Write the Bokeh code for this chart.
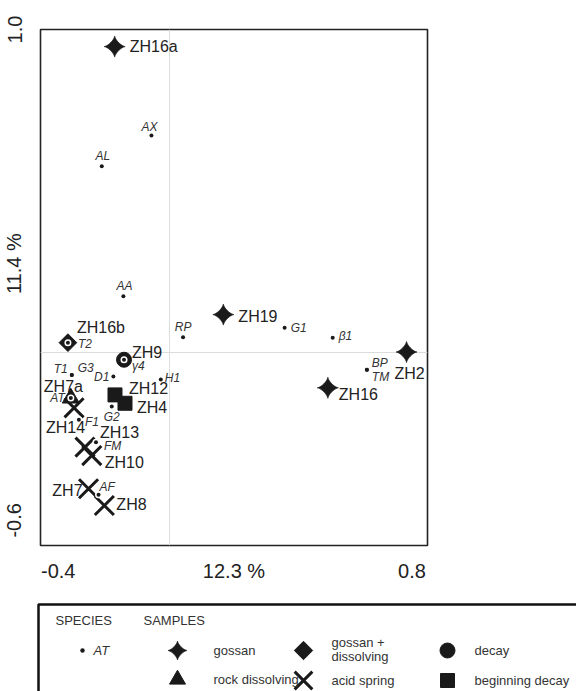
import numpy as np
from bokeh.plotting import figure
from bokeh.models import FixedTicker, ColumnDataSource, Range1d
from bokeh.core.properties import value
from bokeh.embed import file_html
from bokeh.resources import INLINE

# ---------------- data ----------------
sample_names = ["ZH16a", "ZH19", "ZH2", "ZH16", "ZH16b", "ZH9", "ZH12", "ZH4",
                "ZH7a", "ZH14", "ZH13", "ZH10", "ZH7", "ZH8"]
sample_x = [-0.170, 0.167, 0.735, 0.491, -0.315, -0.141, -0.169, -0.138,
            -0.306, -0.296, -0.262, -0.241, -0.251, -0.202]
sample_y = [0.947, 0.116, 0.000, -0.111, 0.029, -0.024, -0.133, -0.159,
            -0.143, -0.173, -0.295, -0.321, -0.424, -0.476]
sample_type = ["gossan", "gossan", "gossan", "gossan", "gossan + dissolving", "decay",
               "beginning decay", "beginning decay", "rock dissolving",
               "acid spring", "acid spring", "acid spring", "acid spring", "acid spring"]

species_names = ["AX", "AL", "AA", "RP", "G1", "β1", "BP", "TM", "H1", "D1",
                 "T1", "G3", "T2", "γ4", "AT", "G2", "F1", "FM", "AF"]
species_x = [-0.056, -0.210, -0.143, 0.042, 0.357, 0.506, 0.612, 0.612, -0.027, -0.174,
             -0.303, -0.303, -0.315, -0.141, -0.306, -0.179, -0.281, -0.228, -0.220]
species_y = [0.671, 0.576, 0.173, 0.046, 0.075, 0.044, -0.055, -0.055, -0.085, -0.076,
             -0.071, -0.071, 0.029, -0.024, -0.143, -0.169, -0.210, -0.280, -0.443]

x_tick_pos = [-0.345, 0.2, 0.752]
x_tick_labels = ["-0.4", "12.3 %", "0.8"]
y_tick_pos = [1.0, 0.274, -0.522]
y_tick_labels = ["1.0", "11.4 %", "-0.6"]

# label placement (screen px) -- style only
sample_dx = [15, 15, 3, 11, 9, 8, 14, 12, -27, -28, 15, 13, -6, 12]
sample_dy = [0, 2, 21, 7, -15, -7, -6, 4, -12, 20, -15, 7, 2, -1]
sample_align = ["left", "left", "center", "left", "left", "left", "left", "left",
                "left", "left", "left", "left", "right", "left"]
species_dx = [-2, 1, 1, 0, 6, 6, 5, 5, 4, -4, -4, 6, 10, 8, -6, 0, 6, 8, 1]
species_dy = [-9, -10, -10, -10, 0, -2, -7, 7, -1, 0, -6, -7, 1, 6, 0, 10, 2, 4, -8]
species_align = ["center", "center", "center", "center", "left", "left", "left", "left",
                 "left", "right", "right", "left", "left", "left", "right", "center",
                 "left", "left", "left"]

FONT = value("Liberation Sans")
INK = "#1a1a1a"


def sparkle(cx, cy, rx, ry, k=2.8, n=96):
    t = np.linspace(0, 2 * np.pi, n, endpoint=False)
    c, s = np.cos(t), np.sin(t)
    return (list(cx + rx * np.sign(c) * np.abs(c) ** k),
            list(cy + ry * np.sign(s) * np.abs(s) ** k))


# ---------------- main plot ----------------
p = figure(width=576, height=600, x_range=Range1d(-0.4, 0.8), y_range=Range1d(-0.6, 1.0),
           output_backend="svg", toolbar_location=None,
           min_border_left=39, min_border_right=149, min_border_top=29, min_border_bottom=55)
p.background_fill_color = "white"
p.outline_line_color = "#222222"
p.outline_line_width = 1.6

for ax, pos, labs in ((p.xaxis[0], x_tick_pos, x_tick_labels), (p.yaxis[0], y_tick_pos, y_tick_labels)):
    ax.ticker = FixedTicker(ticks=pos)
    ax.major_label_overrides = {k: v for k, v in zip(pos, labs)}
    ax.axis_line_color = None
    ax.major_tick_line_color = None
    ax.minor_tick_line_color = None
    ax.major_label_text_font = "Liberation Sans"
    ax.major_label_text_font_size = "20px"
    ax.major_label_text_color = "#222222"
p.xaxis.major_label_standoff = 8
p.yaxis.major_label_standoff = 9
p.yaxis.major_label_orientation = "vertical"

p.xgrid.ticker = FixedTicker(ticks=[0])
p.ygrid.ticker = FixedTicker(ticks=[0])
p.grid.grid_line_color = "#dcdcdc"
p.grid.grid_line_width = 1

rx, ry = 10.5 / 323.3, 10.5 / 322.5
gx, gy = [], []
for n, x, y, t in zip(sample_names, sample_x, sample_y, sample_type):
    if t == "gossan":
        a, b = sparkle(x, y, rx, ry)
        gx.append(a)
        gy.append(b)
p.patches(gx, gy, fill_color=INK, line_color=INK, line_width=0.8)


def sel(kind):
    idx = [i for i, t in enumerate(sample_type) if t == kind]
    return [sample_x[i] for i in idx], [sample_y[i] for i in idx]


x, y = sel("gossan + dissolving")
p.scatter(x, y, marker="square", size=12.5, angle=np.pi / 4, fill_color=INK, line_color=INK)
x, y = sel("decay")
p.scatter(x, y, marker="circle", size=15, fill_color=INK, line_color=INK)
x, y = sel("beginning decay")
p.scatter(x, y, marker="square", size=14, fill_color=INK, line_color=INK)
x, y = sel("rock dissolving")
p.scatter(x, y, marker="triangle", size=17, fill_color=INK, line_color=INK)
x, y = sel("acid spring")
p.scatter(x, y, marker="x", size=27, line_color=INK, line_width=3)

# species points with white halo
p.scatter(species_x, species_y, marker="circle", size=7, fill_color="white", line_color=None)
p.scatter(species_x, species_y, marker="circle", size=4, fill_color=INK, line_color=None)

ssrc = ColumnDataSource(dict(x=sample_x, y=sample_y, t=sample_names, dx=sample_dx,
                             dy=sample_dy, al=sample_align))
p.text(x="x", y="y", text="t", x_offset="dx", y_offset="dy", text_align="al",
       text_baseline="middle", text_font=FONT, text_font_size="16px",
       text_color="#222222", source=ssrc)
psrc = ColumnDataSource(dict(x=species_x, y=species_y, t=species_names, dx=species_dx,
                             dy=species_dy, al=species_align))
p.text(x="x", y="y", text="t", x_offset="dx", y_offset="dy", text_align="al",
       text_baseline="middle", text_font=FONT, text_font_size="12px",
       text_font_style="italic", text_color="#333333", source=psrc)

# ---------------- legend panel ----------------
lg = figure(width=576, height=91, x_range=Range1d(0, 576), y_range=Range1d(691, 600),
            output_backend="svg", toolbar_location=None, min_border=0,
            x_axis_location=None, y_axis_location=None)
lg.grid.visible = False
lg.outline_line_color = None
lg.quad(left=[38], right=[620], top=[604], bottom=[720], fill_color=None,
        line_color="#111111", line_width=2.5)

leg_head = ["SPECIES", "SAMPLES"]
lg.text(x=[55, 143], y=[620, 620], text=leg_head, text_baseline="middle",
        text_font=FONT, text_font_size="13px", text_color="#333333")
lg.scatter([82], [650], marker="circle", size=4.5, fill_color=INK, line_color=None)
lg.text(x=[93], y=[650], text=["AT"], text_baseline="middle", text_font=FONT,
        text_font_size="13px", text_font_style="italic", text_color="#333333")
a, b = sparkle(177, 650, 9.5, 9.5)
lg.patch(a, b, fill_color=INK, line_color=INK, line_width=0.8)
lg.scatter([303], [650], marker="square", size=13, angle=np.pi / 4, fill_color=INK, line_color=INK)
lg.scatter([447], [650], marker="circle", size=15, fill_color=INK, line_color=INK)
lg.scatter([177], [679], marker="triangle", size=16, fill_color=INK, line_color=INK)
lg.scatter([303], [680], marker="x", size=25, line_color=INK, line_width=3)
lg.scatter([447], [680], marker="square", size=14, fill_color=INK, line_color=INK)
leg_labels = ["gossan", "gossan +", "dissolving", "decay", "rock dissolving",
              "acid spring", "beginning decay"]
lg.text(x=[213, 331, 331, 474, 213, 331, 474], y=[650, 642, 656, 650, 679, 680, 680],
        text=leg_labels, text_baseline="middle", text_font=FONT, text_font_size="13px",
        text_color="#333333")

open("out.html", "w").write(file_html([p, lg], INLINE))
